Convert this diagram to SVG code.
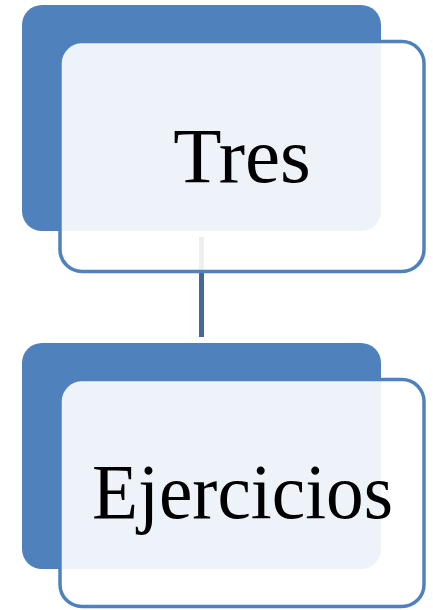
<svg xmlns="http://www.w3.org/2000/svg" width="433" height="610" viewBox="0 0 433 610">
<style>
.back{fill:#4F81BD}
.front{fill:#FFFFFF;fill-opacity:0.9;stroke:#4F81BD;stroke-width:3.5}
.lbl{font-family:"Liberation Serif","DejaVu Serif",serif;font-size:79px;fill:#000;text-anchor:middle}
.conn{stroke:#43699B;stroke-width:5;fill:none}
</style>
<rect width="433" height="610" fill="#FFFFFF"/>
<g id="connectors">
<line class="conn" x1="201.5" y1="237" x2="201.5" y2="337"/>
</g>
<g id="node-tres">
<rect class="back" x="22" y="5" width="359" height="226" rx="20"/>
<rect class="front" x="60" y="41.5" width="364" height="230" rx="22"/>
<text class="lbl" x="242" y="182">Tres</text>
</g>
<g id="node-ejercicios">
<rect class="back" x="22" y="343" width="359" height="226" rx="20"/>
<rect class="front" x="60" y="379.5" width="364" height="227" rx="22"/>
<text class="lbl" x="242.5" y="518" textLength="301" lengthAdjust="spacingAndGlyphs">Ejercicios</text>
</g>
</svg>
